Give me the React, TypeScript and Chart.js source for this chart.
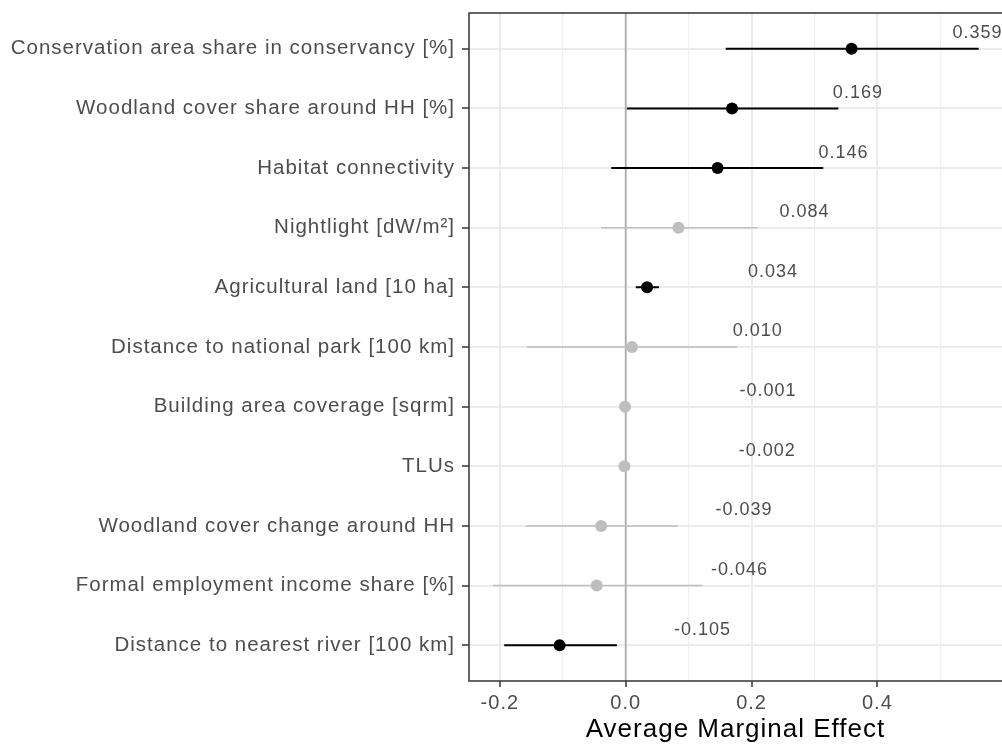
import React, { useEffect, useRef } from 'react';
import { Chart, registerables } from 'chart.js';

Chart.register(...registerables);

// ---- Data ----
const categories = [
  'Conservation area share in conservancy [%]',
  'Woodland cover share around HH [%]',
  'Habitat connectivity',
  'Nightlight [dW/m²]',
  'Agricultural land [10 ha]',
  'Distance to national park [100 km]',
  'Building area coverage [sqrm]',
  'TLUs',
  'Woodland cover change around HH',
  'Formal employment income share [%]',
  'Distance to nearest river [100 km]',
];
const estimates = [0.359, 0.169, 0.146, 0.084, 0.034, 0.010, -0.001, -0.002, -0.039, -0.046, -0.105];
const lowerCI = [0.159, 0.002, -0.023, -0.039, 0.016, -0.157, -0.004, -0.005, -0.158, -0.211, -0.193];
const upperCI = [0.561, 0.338, 0.314, 0.209, 0.053, 0.177, 0.002, 0.001, 0.083, 0.122, -0.014];
const significant = [true, true, true, false, true, false, false, false, false, false, true];
const xTickValues = [-0.2, -0.1, 0.0, 0.1, 0.2, 0.3, 0.4, 0.5];
const xMajorTicks = [-0.2, 0.0, 0.2, 0.4];

// ---- Style constants ----
const FONT = "'Liberation Sans', Arial, sans-serif";
const X_MIN = -0.249;
const X_MAX = 0.598;
const Y_MIN = 0.4;
const Y_MAX = 11.6;
const LABEL_OFFSET_POS = 0.2;
const LABEL_OFFSET_NEG = 0.227;
const LABEL_RAISE = 0.26;

const isMajor = (v: number) => xMajorTicks.some((m) => Math.abs(m - v) < 1e-9);

function ciSegments(sig: boolean) {
  const out: any[] = [];
  estimates.forEach((_, i) => {
    if (significant[i] === sig) {
      out.push({ x: lowerCI[i], y: i + 1 }, { x: upperCI[i], y: i + 1 }, { x: null, y: null });
    }
  });
  return out;
}

function pointsFor(sig: boolean) {
  const out: any[] = [];
  estimates.forEach((v, i) => {
    if (significant[i] === sig) out.push({ x: v, y: i + 1 });
  });
  return out;
}

const spacingPlugin = {
  id: 'spacing',
  beforeUpdate(chart: any) {
    chart.ctx.letterSpacing = '1px';
  },
  beforeDraw(chart: any) {
    chart.ctx.letterSpacing = '1px';
  },
};

const borderAndLabels = {
  id: 'borderAndLabels',
  afterDatasetsDraw(chart: any) {
    const { ctx, chartArea, scales } = chart;
    const xs = scales.x;
    const ys = scales.y;
    ctx.save();
    ctx.letterSpacing = '1px';
    ctx.font = `18px ${FONT}`;
    ctx.fillStyle = '#4D4D4D';
    ctx.textAlign = 'center';
    ctx.textBaseline = 'middle';
    estimates.forEach((v, i) => {
      const off = v < 0 ? LABEL_OFFSET_NEG : LABEL_OFFSET_POS;
      const px = xs.getPixelForValue(v + off);
      const py = ys.getPixelForValue(i + 1 - LABEL_RAISE);
      ctx.fillText(v.toFixed(3), px, py);
    });
    ctx.restore();

    ctx.save();
    ctx.strokeStyle = '#333333';
    ctx.lineWidth = 1.5;
    ctx.strokeRect(chartArea.left, chartArea.top, chartArea.right - chartArea.left + 4, chartArea.bottom - chartArea.top);
    ctx.restore();
  },
};

export default function App() {
  const ref = useRef<HTMLCanvasElement | null>(null);

  useEffect(() => {
    if (!ref.current) return;
    Chart.defaults.font.family = FONT;
    const chart = new Chart(ref.current, {
      type: 'scatter',
      data: {
        datasets: [
          {
            data: pointsFor(true),
            backgroundColor: '#000000',
            borderColor: '#000000',
            pointRadius: 6,
            pointBorderWidth: 0,
          },
          {
            data: pointsFor(false),
            backgroundColor: '#BEBEBE',
            borderColor: '#BEBEBE',
            pointRadius: 6,
            pointBorderWidth: 0,
          },
          {
            data: ciSegments(true),
            showLine: true,
            borderColor: '#000000',
            borderWidth: 2,
            pointRadius: 0,
            spanGaps: false,
          },
          {
            data: ciSegments(false),
            showLine: true,
            borderColor: '#BEBEBE',
            borderWidth: 1.6,
            pointRadius: 0,
            spanGaps: false,
          },
          {
            data: [
              { x: 0, y: Y_MIN },
              { x: 0, y: Y_MAX },
            ],
            showLine: true,
            borderColor: '#ADADAD',
            borderWidth: 1.8,
            pointRadius: 0,
          },
        ] as any,
      },
      options: {
        animation: false,
        responsive: false,
        devicePixelRatio: 1,
        layout: { autoPadding: false, padding: { top: 13, left: 0, right: 0, bottom: 0 } },
        plugins: {
          legend: { display: false },
          tooltip: { enabled: false },
        },
        scales: {
          x: {
            type: 'linear',
            min: X_MIN,
            max: X_MAX,
            afterBuildTicks: (s: any) => {
              s.ticks = xTickValues.map((v) => ({ value: v }));
            },
            afterFit: (s: any) => {
              s.height = 70;
              s.paddingLeft = 0;
              s.paddingRight = 0;
            },
            ticks: {
              autoSkip: false,
              maxRotation: 0,
              minRotation: 0,
              padding: 4,
              color: '#4D4D4D',
              font: { size: 20, family: FONT },
              callback: (v: any) => (isMajor(Number(v)) ? Number(v).toFixed(1) : ''),
            },
            grid: {
              color: (c: any) => (c.tick && isMajor(c.tick.value) ? '#EBEBEB' : '#F0F0F0'),
              lineWidth: (c: any) => (c.tick && isMajor(c.tick.value) ? 2 : 1.3),
              tickLength: 6,
              tickColor: (c: any) => (c.tick && isMajor(c.tick.value) ? '#333333' : 'rgba(0,0,0,0)'),
              tickWidth: 1.5,
            },
            border: { display: false },
            title: {
              display: true,
              text: 'Average Marginal Effect',
              color: '#000000',
              font: { size: 26, family: FONT },
              padding: { top: 0, bottom: 6 },
            },
          },
          y: {
            type: 'linear',
            reverse: true,
            min: Y_MIN,
            max: Y_MAX,
            afterBuildTicks: (s: any) => {
              s.ticks = categories.map((_, i) => ({ value: i + 1 }));
            },
            afterFit: (s: any) => {
              s.width = 469;
              s.paddingTop = 0;
              s.paddingBottom = 0;
            },
            ticks: {
              autoSkip: false,
              padding: 7,
              color: '#4D4D4D',
              font: { size: 20.5, family: FONT },
              callback: (v: any) => categories[Math.round(Number(v)) - 1] ?? '',
            },
            grid: {
              color: '#EBEBEB',
              lineWidth: 2,
              tickLength: 7,
              tickColor: '#333333',
              tickWidth: 1.5,
            },
            border: { display: false },
          },
        },
      } as any,
      plugins: [spacingPlugin, borderAndLabels],
    });
    return () => chart.destroy();
  }, []);

  return (
    <div style={{ position: 'absolute', left: 0, top: 0, width: 1002, height: 751, background: '#ffffff' }}>
      <canvas ref={ref} width={1002} height={751} style={{ display: 'block' }} />
    </div>
  );
}
